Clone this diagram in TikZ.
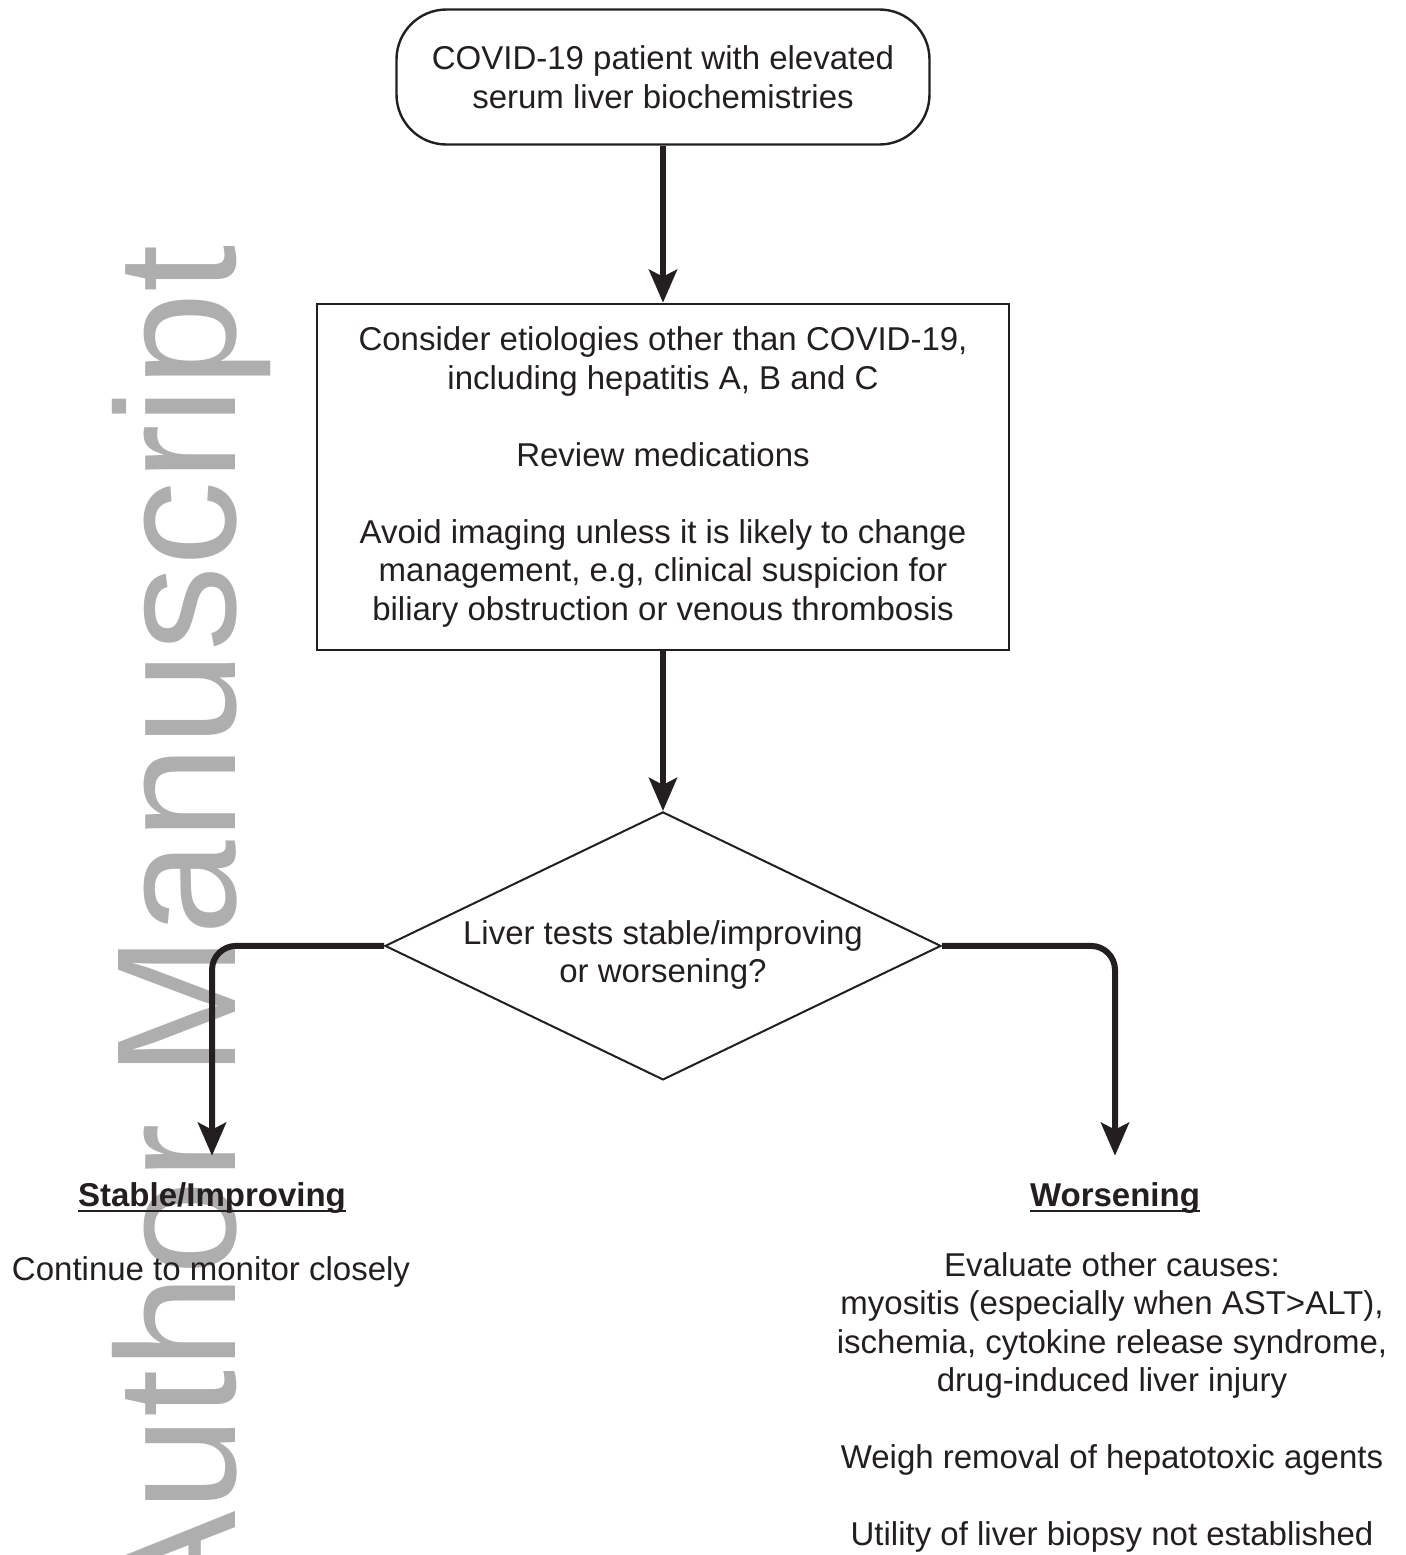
\documentclass[tikz,border=0pt]{standalone}
\usepackage{graphicx}
\usepackage{fontspec}
\setmainfont{Liberation Sans}
\usetikzlibrary{arrows.meta,positioning,shapes.geometric}
\definecolor{ink}{HTML}{231F20}
\definecolor{wmgray}{HTML}{AEAEAE}

\begin{document}
\begin{tikzpicture}[
      x=0.5pt,y=-0.5pt,
      font=\fontsize{16.5}{19.25}\selectfont,
      every node/.style={text=ink},
      term/.style={draw=ink,line width=1.2pt,rounded corners=25pt,align=center,
                   minimum width=266.5pt,minimum height=67.5pt,inner sep=0pt},
      box/.style={draw=ink,line width=1.1pt,align=center,
                  minimum width=346pt,minimum height=173pt,inner sep=0pt},
      decision/.style={diamond,draw=ink,line width=1pt,aspect=2.07,
                       minimum width=278pt,minimum height=134pt,inner sep=0pt},
      head/.style={font=\fontsize{16.5}{19.25}\selectfont\bfseries,inner sep=0pt},
      body/.style={align=center,inner sep=0pt},
      uline/.style={draw=ink,line width=1.4pt},
      arr/.style={-{Stealth[length=16.5pt,width=14pt,inset=3.5pt]},draw=ink,line width=3pt}]
    \useasboundingbox (0,0) rectangle (1406,1555);
    % watermark
    \begin{scope}
      \clip (0,0) rectangle (1406,1555);
      \node[rotate=90,anchor=base east,inner sep=0pt,text=wmgray,
            font=\fontsize{85}{85}\selectfont] (wm) at (235,245) {Author Manuscript};
    \end{scope}
    \node[term] (start) at (663,77) {COVID-19 patient with elevated\\serum liver biochemistries};
    \node[box,below=78.5pt of start] (consider) {Consider etiologies other than COVID-19,\\including hepatitis A, B and C\\[19.25pt]Review medications\\[19.25pt]Avoid imaging unless it is likely to change\\management, e.g, clinical suspicion for\\biliary obstruction or venous thrombosis};
    \node[decision,below=80pt of consider] (dec) {};
    \node[body,yshift=-4.5pt] (dectext) at (dec) {Liver tests stable/improving\\or worsening?};
    \node[head,anchor=base] (stable) at (212,1206) {Stable/Improving};
    \node[body,anchor=base] (monitor) at (211,1280) {Continue to monitor closely};
    \node[head,anchor=base] (worse) at (1115,1206) {Worsening};
    \node[body,anchor=north] (causes) at (1112,1252) {Evaluate other causes:\\myositis (especially when AST>ALT),\\ischemia, cytokine release syndrome,\\drug-induced liver injury\\[19.25pt]Weigh removal of hepatotoxic agents\\[19.25pt]Utility of liver biopsy not established};
    \draw[uline] ([yshift=-2.5pt]stable.base west) -- ([yshift=-2.5pt]stable.base east);
    \draw[uline] ([yshift=-2.5pt]worse.base west) -- ([yshift=-2.5pt]worse.base east);
    \draw[arr] (start) -- (consider);
    \draw[arr] (consider) -- (dec);
    \draw[arr,rounded corners=12pt] (dec.west) -| ([yshift=13pt]stable.north);
    \draw[arr,rounded corners=12pt] (dec.east) -| ([yshift=13pt]worse.north);
  \end{tikzpicture}
\end{document}
